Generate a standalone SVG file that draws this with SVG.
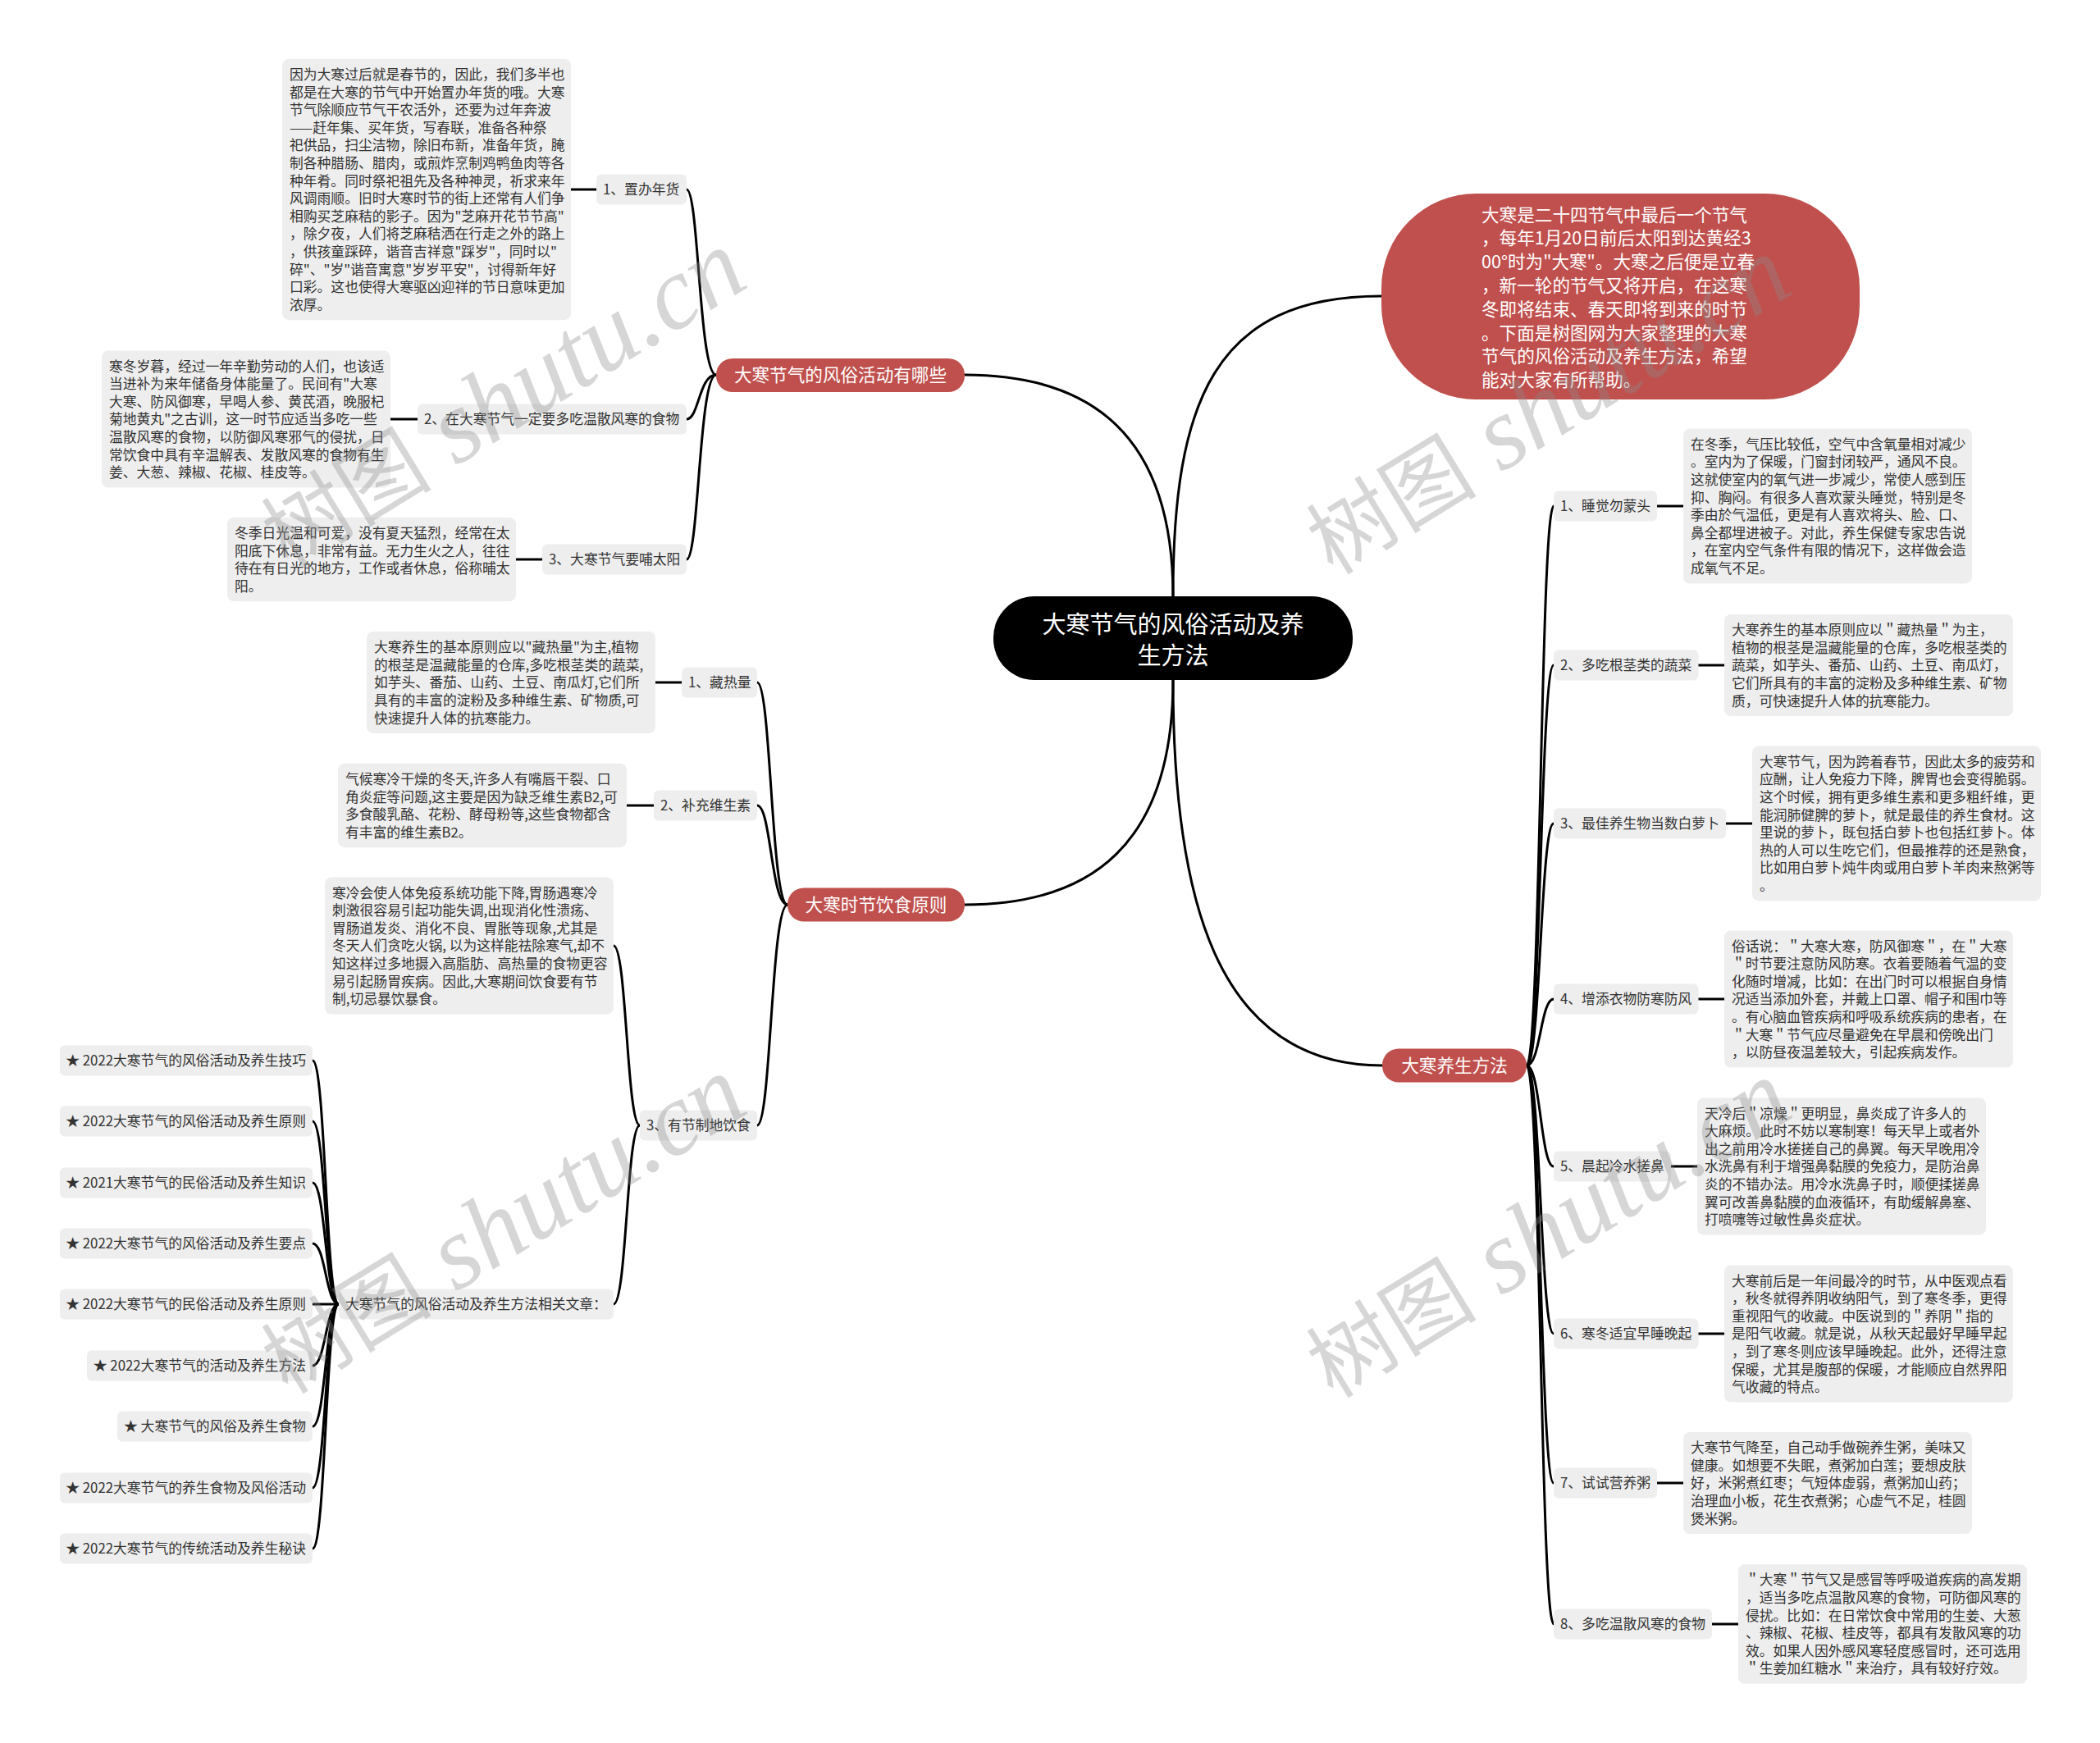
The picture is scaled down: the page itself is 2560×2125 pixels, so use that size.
<svg xmlns="http://www.w3.org/2000/svg" width="2560" height="2125" viewBox="0 0 2560 2125">
<style>
.bg{fill:#ffffff}
.box{fill:#eeeeee}
.t{font-family:"Noto Sans CJK SC","Noto Sans",sans-serif;font-size:16.8px;fill:#333333}
.red{fill:#c0504d}
.rt{font-family:"Noto Sans CJK SC","Noto Sans",sans-serif;font-size:21.6px;fill:#ffffff}
.ct{font-family:"Noto Sans CJK SC","Noto Sans",sans-serif;font-size:29px;fill:#ffffff}
.conn path,.conn line{fill:none;stroke:#000000;stroke-width:3;stroke-linecap:round}
.wm{fill:#8a8a8a;fill-opacity:0.35}
.wmc{font-family:"Noto Sans CJK SC",sans-serif;font-size:104px}
.wml{font-family:"Liberation Serif",serif;font-style:italic;font-size:126px}
</style>
<rect class="bg" x="0" y="0" width="2560" height="2125"/>

<g id="connectors" class="conn">
  <path d="M1430 727 C1430 530 1330 457 1176 457"/>
  <path d="M1430 727 C1430 490 1480 361 1684 361"/>
  <path d="M1430 829 C1430 1030 1330 1103 1176 1103"/>
  <path d="M1430 829 C1430 1090 1480 1299 1685 1299"/>
  <!-- branch A -->
  <path d="M873 457 C852 457 852 231 837 231"/>
  <path d="M873 457 C852 457 852 511 837 511"/>
  <path d="M873 457 C852 457 852 682 837 682"/>
  <line x1="696" y1="231" x2="727" y2="231"/>
  <line x1="476" y1="511" x2="509" y2="511"/>
  <line x1="629" y1="682" x2="661" y2="682"/>
  <!-- branch B -->
  <path d="M960 1103 C940 1103 940 832 923 832"/>
  <path d="M960 1103 C940 1103 940 982 923 982"/>
  <path d="M960 1103 C940 1103 940 1372 923 1372"/>
  <line x1="798" y1="832" x2="831" y2="832"/>
  <line x1="764" y1="982" x2="797" y2="982"/>
  <path d="M780 1372 C764 1372 764 1153 748 1153"/>
  <path d="M780 1372 C764 1372 764 1590 748 1590"/>
  <path d="M413 1590 C397 1590 397 1293 381 1293"/>
  <path d="M413 1590 C397 1590 397 1367 381 1367"/>
  <path d="M413 1590 C397 1590 397 1442 381 1442"/>
  <path d="M413 1590 C397 1590 397 1516 381 1516"/>
  <path d="M413 1590 L381 1590"/>
  <path d="M413 1590 C397 1590 397 1665 381 1665"/>
  <path d="M413 1590 C397 1590 397 1739 381 1739"/>
  <path d="M413 1590 C397 1590 397 1814 381 1814"/>
  <path d="M413 1590 C397 1590 397 1888 381 1888"/>
  <!-- branch C -->
  <path d="M1861 1299 C1878 1299 1878 617 1894 617"/>
  <path d="M1861 1299 C1878 1299 1878 811 1894 811"/>
  <path d="M1861 1299 C1878 1299 1878 1004 1894 1004"/>
  <path d="M1861 1299 C1878 1299 1878 1218 1894 1218"/>
  <path d="M1861 1299 C1878 1299 1878 1422 1894 1422"/>
  <path d="M1861 1299 C1878 1299 1878 1626 1894 1626"/>
  <path d="M1861 1299 C1878 1299 1878 1808 1894 1808"/>
  <path d="M1861 1299 C1878 1299 1878 1980 1894 1980"/>
  <line x1="2020" y1="617" x2="2052" y2="617"/>
  <line x1="2070" y1="811" x2="2102" y2="811"/>
  <line x1="2104" y1="1004" x2="2136" y2="1004"/>
  <line x1="2070" y1="1218" x2="2102" y2="1218"/>
  <line x1="2037" y1="1422" x2="2069" y2="1422"/>
  <line x1="2070" y1="1626" x2="2102" y2="1626"/>
  <line x1="2020" y1="1808" x2="2052" y2="1808"/>
  <line x1="2087" y1="1980" x2="2119" y2="1980"/>
</g>

<!-- center -->
<g id="center">
  <rect x="1211" y="727" width="438" height="102" rx="50" fill="#000000"/>
  <text class="ct" text-anchor="middle"><tspan x="1430" y="772">大寒节气的风俗活动及养</tspan><tspan x="1430" y="810">生方法</tspan></text>
</g>

<!-- intro -->
<g id="intro">
  <rect class="red" x="1684" y="236" width="583" height="251" rx="115"/>
  <text class="rt"><tspan x="1806" y="269.6">大寒是二十四节气中最后一个节气</tspan><tspan x="1806" dy="28.8">，每年1月20日前后太阳到达黄经3</tspan><tspan x="1806" dy="28.8">00°时为"大寒"。大寒之后便是立春</tspan><tspan x="1806" dy="28.8">，新一轮的节气又将开启，在这寒</tspan><tspan x="1806" dy="28.8">冬即将结束、春天即将到来的时节</tspan><tspan x="1806" dy="28.8">。下面是树图网为大家整理的大寒</tspan><tspan x="1806" dy="28.8">节气的风俗活动及养生方法，希望</tspan><tspan x="1806" dy="28.8">能对大家有所帮助。</tspan></text>
</g>

<!-- branch A -->
<g id="branch-a">
  <rect class="red" x="873" y="437" width="303" height="41" rx="20"/>
  <text class="rt" x="1024.5" y="465.2" text-anchor="middle">大寒节气的风俗活动有哪些</text>
</g>
<g id="a1">
  <rect class="box" x="727" y="212.5" width="110" height="37" rx="6"/>
  <text class="t" x="735" y="237.4">1、置办年货</text>
</g>
<g id="a1-text">
  <rect class="box" x="344" y="71.8" width="352" height="318.4" rx="8"/>
  <text class="t"><tspan x="353" y="97">因为大寒过后就是春节的，因此，我们多半也</tspan><tspan x="353" dy="21.6">都是在大寒的节气中开始置办年货的哦。大寒</tspan><tspan x="353" dy="21.6">节气除顺应节气干农活外，还要为过年奔波</tspan><tspan x="353" dy="21.6">——赶年集、买年货，写春联，准备各种祭</tspan><tspan x="353" dy="21.6">祀供品，扫尘洁物，除旧布新，准备年货，腌</tspan><tspan x="353" dy="21.6">制各种腊肠、腊肉，或煎炸烹制鸡鸭鱼肉等各</tspan><tspan x="353" dy="21.6">种年肴。同时祭祀祖先及各种神灵，祈求来年</tspan><tspan x="353" dy="21.6">风调雨顺。旧时大寒时节的街上还常有人们争</tspan><tspan x="353" dy="21.6">相购买芝麻秸的影子。因为"芝麻开花节节高"</tspan><tspan x="353" dy="21.6">，除夕夜，人们将芝麻秸洒在行走之外的路上</tspan><tspan x="353" dy="21.6">，供孩童踩碎，谐音吉祥意"踩岁"，同时以"</tspan><tspan x="353" dy="21.6">碎"、"岁"谐音寓意"岁岁平安"，讨得新年好</tspan><tspan x="353" dy="21.6">口彩。这也使得大寒驱凶迎祥的节日意味更加</tspan><tspan x="353" dy="21.6">浓厚。</tspan></text>
</g>
<g id="a2">
  <rect class="box" x="509" y="492.5" width="328" height="37" rx="6"/>
  <text class="t" x="517" y="517.4">2、在大寒节气一定要多吃温散风寒的食物</text>
</g>
<g id="a2-text">
  <rect class="box" x="124" y="427.4" width="352" height="167.2" rx="8"/>
  <text class="t"><tspan x="133" y="452.6">寒冬岁暮，经过一年辛勤劳动的人们，也该适</tspan><tspan x="133" dy="21.6">当进补为来年储备身体能量了。民间有"大寒</tspan><tspan x="133" dy="21.6">大寒、防风御寒，早喝人参、黄芪酒，晚服杞</tspan><tspan x="133" dy="21.6">菊地黄丸"之古训，这一时节应适当多吃一些</tspan><tspan x="133" dy="21.6">温散风寒的食物，以防御风寒邪气的侵扰，日</tspan><tspan x="133" dy="21.6">常饮食中具有辛温解表、发散风寒的食物有生</tspan><tspan x="133" dy="21.6">姜、大葱、辣椒、花椒、桂皮等。</tspan></text>
</g>
<g id="a3">
  <rect class="box" x="661" y="663.5" width="176" height="37" rx="6"/>
  <text class="t" x="669" y="688.4">3、大寒节气要哺太阳</text>
</g>
<g id="a3-text">
  <rect class="box" x="277" y="630.8" width="352" height="102.4" rx="8"/>
  <text class="t"><tspan x="286" y="656">冬季日光温和可爱，没有夏天猛烈，经常在太</tspan><tspan x="286" dy="21.6">阳底下休息，非常有益。无力生火之人，往往</tspan><tspan x="286" dy="21.6">待在有日光的地方，工作或者休息，俗称晡太</tspan><tspan x="286" dy="21.6">阳。</tspan></text>
</g>

<!-- branch B -->
<g id="branch-b">
  <rect class="red" x="960" y="1082.5" width="216" height="41" rx="20"/>
  <text class="rt" x="1068" y="1111.2" text-anchor="middle">大寒时节饮食原则</text>
</g>
<g id="b1">
  <rect class="box" x="831" y="813.5" width="92" height="37" rx="6"/>
  <text class="t" x="839" y="838.4">1、藏热量</text>
</g>
<g id="b1-text">
  <rect class="box" x="447" y="770" width="352" height="124" rx="8"/>
  <text class="t"><tspan x="456" y="795.2">大寒养生的基本原则应以"藏热量"为主,植物</tspan><tspan x="456" dy="21.6">的根茎是温藏能量的仓库,多吃根茎类的蔬菜,</tspan><tspan x="456" dy="21.6">如芋头、番茄、山药、土豆、南瓜灯,它们所</tspan><tspan x="456" dy="21.6">具有的丰富的淀粉及多种维生素、矿物质,可</tspan><tspan x="456" dy="21.6">快速提升人体的抗寒能力。</tspan></text>
</g>
<g id="b2">
  <rect class="box" x="797" y="963.5" width="126" height="37" rx="6"/>
  <text class="t" x="805" y="988.4">2、补充维生素</text>
</g>
<g id="b2-text">
  <rect class="box" x="412" y="930.8" width="352" height="102.4" rx="8"/>
  <text class="t"><tspan x="421" y="956">气候寒冷干燥的冬天,许多人有嘴唇干裂、口</tspan><tspan x="421" dy="21.6">角炎症等问题,这主要是因为缺乏维生素B2,可</tspan><tspan x="421" dy="21.6">多食酸乳酪、花粉、酵母粉等,这些食物都含</tspan><tspan x="421" dy="21.6">有丰富的维生素B2。</tspan></text>
</g>
<g id="b3">
  <rect class="box" x="780" y="1353.5" width="143" height="37" rx="6"/>
  <text class="t" x="788" y="1378.4">3、有节制地饮食</text>
</g>
<g id="b3-text">
  <rect class="box" x="396" y="1069.4" width="352" height="167.2" rx="8"/>
  <text class="t"><tspan x="405" y="1094.6">寒冷会使人体免疫系统功能下降,胃肠遇寒冷</tspan><tspan x="405" dy="21.6">刺激很容易引起功能失调,出现消化性溃疡、</tspan><tspan x="405" dy="21.6">胃肠道发炎、消化不良、胃胀等现象,尤其是</tspan><tspan x="405" dy="21.6">冬天人们贪吃火锅, 以为这样能祛除寒气,却不</tspan><tspan x="405" dy="21.6">知这样过多地摄入高脂肪、高热量的食物更容</tspan><tspan x="405" dy="21.6">易引起肠胃疾病。因此,大寒期间饮食要有节</tspan><tspan x="405" dy="21.6">制,切忌暴饮暴食。</tspan></text>
</g>
<g id="related">
  <rect class="box" x="413" y="1571.5" width="335" height="37" rx="6"/>
  <text class="t" x="421" y="1596.4">大寒节气的风俗活动及养生方法相关文章：</text>
</g>
<g id="r1"><rect class="box" x="73" y="1274.5" width="308" height="37" rx="6"/><text class="t" x="373" y="1299.4" text-anchor="end">★ 2022大寒节气的风俗活动及养生技巧</text></g>
<g id="r2"><rect class="box" x="73" y="1348.5" width="308" height="37" rx="6"/><text class="t" x="373" y="1373.4" text-anchor="end">★ 2022大寒节气的风俗活动及养生原则</text></g>
<g id="r3"><rect class="box" x="73" y="1423.5" width="308" height="37" rx="6"/><text class="t" x="373" y="1448.4" text-anchor="end">★ 2021大寒节气的民俗活动及养生知识</text></g>
<g id="r4"><rect class="box" x="73" y="1497.5" width="308" height="37" rx="6"/><text class="t" x="373" y="1522.4" text-anchor="end">★ 2022大寒节气的风俗活动及养生要点</text></g>
<g id="r5"><rect class="box" x="73" y="1571.5" width="308" height="37" rx="6"/><text class="t" x="373" y="1596.4" text-anchor="end">★ 2022大寒节气的民俗活动及养生原则</text></g>
<g id="r6"><rect class="box" x="106" y="1646.5" width="275" height="37" rx="6"/><text class="t" x="373" y="1671.4" text-anchor="end">★ 2022大寒节气的活动及养生方法</text></g>
<g id="r7"><rect class="box" x="143" y="1720.5" width="238" height="37" rx="6"/><text class="t" x="373" y="1745.4" text-anchor="end">★ 大寒节气的风俗及养生食物</text></g>
<g id="r8"><rect class="box" x="73" y="1795.5" width="308" height="37" rx="6"/><text class="t" x="373" y="1820.4" text-anchor="end">★ 2022大寒节气的养生食物及风俗活动</text></g>
<g id="r9"><rect class="box" x="73" y="1869.5" width="308" height="37" rx="6"/><text class="t" x="373" y="1894.4" text-anchor="end">★ 2022大寒节气的传统活动及养生秘诀</text></g>

<!-- branch C -->
<g id="branch-c">
  <rect class="red" x="1685" y="1278.5" width="176" height="41" rx="20"/>
  <text class="rt" x="1773" y="1307.2" text-anchor="middle">大寒养生方法</text>
</g>
<g id="c1"><rect class="box" x="1894" y="598.5" width="126" height="37" rx="6"/><text class="t" x="1902" y="623.4">1、睡觉勿蒙头</text></g>
<g id="c1-text">
  <rect class="box" x="2052" y="522.6" width="352" height="188.8" rx="8"/>
  <text class="t"><tspan x="2061" y="547.8">在冬季，气压比较低，空气中含氧量相对减少</tspan><tspan x="2061" dy="21.6">。室内为了保暖，门窗封闭较严，通风不良。</tspan><tspan x="2061" dy="21.6">这就使室内的氧气进一步减少，常使人感到压</tspan><tspan x="2061" dy="21.6">抑、胸闷。有很多人喜欢蒙头睡觉，特别是冬</tspan><tspan x="2061" dy="21.6">季由於气温低，更是有人喜欢将头、脸、口、</tspan><tspan x="2061" dy="21.6">鼻全都埋进被子。对此，养生保健专家忠告说</tspan><tspan x="2061" dy="21.6">，在室内空气条件有限的情况下，这样做会造</tspan><tspan x="2061" dy="21.6">成氧气不足。</tspan></text>
</g>
<g id="c2"><rect class="box" x="1894" y="792.5" width="176.5" height="37" rx="6"/><text class="t" x="1902" y="817.4">2、多吃根茎类的蔬菜</text></g>
<g id="c2-text">
  <rect class="box" x="2102" y="749" width="352" height="124" rx="8"/>
  <text class="t"><tspan x="2111" y="774.2">大寒养生的基本原则应以＂藏热量＂为主，</tspan><tspan x="2111" dy="21.6">植物的根茎是温藏能量的仓库，多吃根茎类的</tspan><tspan x="2111" dy="21.6">蔬菜，如芋头、番茄、山药、土豆、南瓜灯，</tspan><tspan x="2111" dy="21.6">它们所具有的丰富的淀粉及多种维生素、矿物</tspan><tspan x="2111" dy="21.6">质，可快速提升人体的抗寒能力。</tspan></text>
</g>
<g id="c3"><rect class="box" x="1894" y="985.5" width="210" height="37" rx="6"/><text class="t" x="1902" y="1010.4">3、最佳养生物当数白萝卜</text></g>
<g id="c3-text">
  <rect class="box" x="2136" y="909.6" width="352" height="188.8" rx="8"/>
  <text class="t"><tspan x="2145" y="934.8">大寒节气，因为跨着春节，因此太多的疲劳和</tspan><tspan x="2145" dy="21.6">应酬，让人免疫力下降，脾胃也会变得脆弱。</tspan><tspan x="2145" dy="21.6">这个时候，拥有更多维生素和更多粗纤维，更</tspan><tspan x="2145" dy="21.6">能润肺健脾的萝卜，就是最佳的养生食材。这</tspan><tspan x="2145" dy="21.6">里说的萝卜，既包括白萝卜也包括红萝卜。体</tspan><tspan x="2145" dy="21.6">热的人可以生吃它们，但最推荐的还是熟食，</tspan><tspan x="2145" dy="21.6">比如用白萝卜炖牛肉或用白萝卜羊肉来熬粥等</tspan><tspan x="2145" dy="21.6">。</tspan></text>
</g>
<g id="c4"><rect class="box" x="1894" y="1199.5" width="176.5" height="37" rx="6"/><text class="t" x="1902" y="1224.4">4、增添衣物防寒防风</text></g>
<g id="c4-text">
  <rect class="box" x="2102" y="1134.4" width="352" height="167.2" rx="8"/>
  <text class="t"><tspan x="2111" y="1159.6">俗话说：＂大寒大寒，防风御寒＂，在＂大寒</tspan><tspan x="2111" dy="21.6">＂时节要注意防风防寒。衣着要随着气温的变</tspan><tspan x="2111" dy="21.6">化随时增减，比如：在出门时可以根据自身情</tspan><tspan x="2111" dy="21.6">况适当添加外套，并戴上口罩、帽子和围巾等</tspan><tspan x="2111" dy="21.6">。有心脑血管疾病和呼吸系统疾病的患者，在</tspan><tspan x="2111" dy="21.6">＂大寒＂节气应尽量避免在早晨和傍晚出门</tspan><tspan x="2111" dy="21.6">，以防昼夜温差较大，引起疾病发作。</tspan></text>
</g>
<g id="c5"><rect class="box" x="1894" y="1403.5" width="143" height="37" rx="6"/><text class="t" x="1902" y="1428.4">5、晨起冷水搓鼻</text></g>
<g id="c5-text">
  <rect class="box" x="2069" y="1338.4" width="352" height="167.2" rx="8"/>
  <text class="t"><tspan x="2078" y="1363.6">天冷后＂凉燥＂更明显，鼻炎成了许多人的</tspan><tspan x="2078" dy="21.6">大麻烦。此时不妨以寒制寒！每天早上或者外</tspan><tspan x="2078" dy="21.6">出之前用冷水搓搓自己的鼻翼。每天早晚用冷</tspan><tspan x="2078" dy="21.6">水洗鼻有利于增强鼻黏膜的免疫力，是防治鼻</tspan><tspan x="2078" dy="21.6">炎的不错办法。用冷水洗鼻子时，顺便揉搓鼻</tspan><tspan x="2078" dy="21.6">翼可改善鼻黏膜的血液循环，有助缓解鼻塞、</tspan><tspan x="2078" dy="21.6">打喷嚏等过敏性鼻炎症状。</tspan></text>
</g>
<g id="c6"><rect class="box" x="1894" y="1607.5" width="176.5" height="37" rx="6"/><text class="t" x="1902" y="1632.4">6、寒冬适宜早睡晚起</text></g>
<g id="c6-text">
  <rect class="box" x="2102" y="1542.4" width="352" height="167.2" rx="8"/>
  <text class="t"><tspan x="2111" y="1567.6">大寒前后是一年间最冷的时节，从中医观点看</tspan><tspan x="2111" dy="21.6">，秋冬就得养阴收纳阳气，到了寒冬季，更得</tspan><tspan x="2111" dy="21.6">重视阳气的收藏。中医说到的＂养阴＂指的</tspan><tspan x="2111" dy="21.6">是阳气收藏。就是说，从秋天起最好早睡早起</tspan><tspan x="2111" dy="21.6">，到了寒冬则应该早睡晚起。此外，还得注意</tspan><tspan x="2111" dy="21.6">保暖，尤其是腹部的保暖，才能顺应自然界阳</tspan><tspan x="2111" dy="21.6">气收藏的特点。</tspan></text>
</g>
<g id="c7"><rect class="box" x="1894" y="1789.5" width="126" height="37" rx="6"/><text class="t" x="1902" y="1814.4">7、试试营养粥</text></g>
<g id="c7-text">
  <rect class="box" x="2052" y="1746" width="352" height="124" rx="8"/>
  <text class="t"><tspan x="2061" y="1771.2">大寒节气降至，自己动手做碗养生粥，美味又</tspan><tspan x="2061" dy="21.6">健康。如想要不失眠，煮粥加白莲；要想皮肤</tspan><tspan x="2061" dy="21.6">好，米粥煮红枣；气短体虚弱，煮粥加山药；</tspan><tspan x="2061" dy="21.6">治理血小板，花生衣煮粥；心虚气不足，桂圆</tspan><tspan x="2061" dy="21.6">煲米粥。</tspan></text>
</g>
<g id="c8"><rect class="box" x="1894" y="1961.5" width="193" height="37" rx="6"/><text class="t" x="1902" y="1986.4">8、多吃温散风寒的食物</text></g>
<g id="c8-text">
  <rect class="box" x="2119" y="1907.2" width="352" height="145.6" rx="8"/>
  <text class="t"><tspan x="2128" y="1932.4">＂大寒＂节气又是感冒等呼吸道疾病的高发期</tspan><tspan x="2128" dy="21.6">，适当多吃点温散风寒的食物，可防御风寒的</tspan><tspan x="2128" dy="21.6">侵扰。比如：在日常饮食中常用的生姜、大葱</tspan><tspan x="2128" dy="21.6">、辣椒、花椒、桂皮等，都具有发散风寒的功</tspan><tspan x="2128" dy="21.6">效。如果人因外感风寒轻度感冒时，还可选用</tspan><tspan x="2128" dy="21.6">＂生姜加红糖水＂来治疗，具有较好疗效。</tspan></text>
</g>

<!-- watermarks -->
<g id="watermarks" class="wm">
  <text transform="translate(351 694) rotate(-31.5)"><tspan class="wmc">树图</tspan><tspan class="wml"> shutu.cn</tspan></text>
  <text transform="translate(1625 702) rotate(-31.5)"><tspan class="wmc">树图</tspan><tspan class="wml"> shutu.cn</tspan></text>
  <text transform="translate(351 1701) rotate(-31.5)"><tspan class="wmc">树图</tspan><tspan class="wml"> shutu.cn</tspan></text>
  <text transform="translate(1625 1706) rotate(-31.5)"><tspan class="wmc">树图</tspan><tspan class="wml"> shutu.cn</tspan></text>
</g>
</svg>
